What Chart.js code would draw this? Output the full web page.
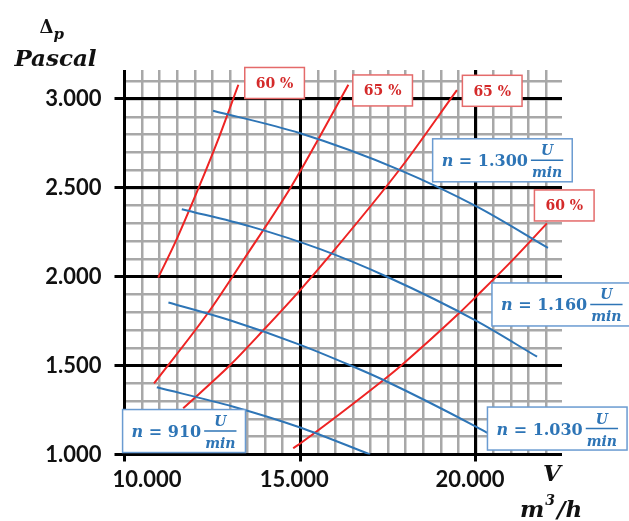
<!DOCTYPE html>
<html>
<head>
<meta charset="utf-8">
<script src="https://cdn.jsdelivr.net/npm/chart.js@4.4.1/dist/chart.umd.min.js"></script>
<style>
  html, body { margin: 0; padding: 0; background: #fff; }
  canvas { display: block; }
</style>
</head>
<body>
<canvas id="chart" width="629" height="521"></canvas>
<script>
// Drehzahl-Kennlinien (Volumenstrom m3/h -> Druck Pa)
const n1300V = [12520, 15000, 17840, 20030, 22050];
const n1300P = [2934, 2807, 2600, 2394, 2162];
const n1160V = [11630, 13600, 15570, 17470, 20000, 21740];
const n1160P = [2380, 2282, 2155, 2000, 1753, 1550];
const n1030V = [11250, 13000, 15000, 16420, 17370, 20000, 20320];
const n1030P = [1855, 1755, 1617, 1502, 1419, 1157, 1122];
const n910V = [10920, 13100, 15000, 16990];
const n910P = [1378, 1269, 1152, 1000];

// Wirkungsgrad-Linien
const eta60aV = [10960, 11460, 12120, 12700, 13240];
const eta60aP = [1995, 2200, 2505, 2790, 3080];
const eta65aV = [10840, 12390, 13430, 14760, 15570, 16370];
const eta65aP = [1400, 1800, 2108, 2512, 2793, 3080];
const eta65bV = [11670, 13000, 13950, 15000, 15760, 17840, 19460];
const eta65bP = [1260, 1502, 1699, 1925, 2100, 2606, 3050];
const eta60bV = [14800, 15000, 17280, 17850, 19550, 20000, 21070, 22020];
const eta60bP = [1035, 1062, 1405, 1497, 1800, 1887, 2099, 2300];

// Achsen
const xTickValues = [10000, 15000, 20000];
const xTickLabels = ['10.000', '15.000', '20.000'];
const yTickValues = [1000, 1500, 2000, 2500, 3000];
const yTickLabels = ['1.000', '1.500', '2.000', '2.500', '3.000'];
const xMinorStep = 500;
const yMinorStep = 100;

// Beschriftungen (Lage in Daten-Einheiten)
const etaLabels = ['60 %', '65 %', '65 %', '60 %'];
const etaLabelV = [14271, 17346, 20464, 22514];
const etaLabelP = [3090, 3048, 3046, 2401];
const speedLabels = ['1.300', '1.160', '1.030', '910'];
const speedLabelV = [20755, 22443, 22315, 11694];
const speedLabelP = [2655, 1844, 1146, 1132];

const BLUE = '#2e75b6';
const RED = '#ee2424';
const GRAY = '#a8a8a8';

function pts(xs, ys) { return xs.map((v, i) => ({ x: v, y: ys[i] })); }

function stepTicks(scale, step) {
  const t = [];
  for (let v = scale.min; v <= scale.max; v += step) t.push({ value: v });
  scale.ticks = t;
}

const datasets = [
  { data: pts(n1300V, n1300P), borderColor: BLUE },
  { data: pts(n1160V, n1160P), borderColor: BLUE },
  { data: pts(n1030V, n1030P), borderColor: BLUE },
  { data: pts(n910V, n910P), borderColor: BLUE },
  { data: pts(eta60aV, eta60aP), borderColor: RED },
  { data: pts(eta65aV, eta65aP), borderColor: RED },
  { data: pts(eta65bV, eta65bP), borderColor: RED },
  { data: pts(eta60bV, eta60bP), borderColor: RED }
];

function box(ctx, x, y, w, h, stroke) {
  ctx.fillStyle = '#fff';
  ctx.fillRect(x, y, w, h);
  ctx.strokeStyle = stroke;
  ctx.lineWidth = 1.5;
  ctx.strokeRect(x, y, w, h);
}

const overlay = {
  id: 'overlay',
  afterDatasetsDraw(chart) {
    const { ctx, scales: { x, y } } = chart;
    ctx.save();

    // Wirkungsgrad-Kästchen
    etaLabels.forEach((txt, i) => {
      const cx = x.getPixelForValue(etaLabelV[i]);
      const cy = y.getPixelForValue(etaLabelP[i]);
      ctx.font = 'bold 14px "DejaVu Serif"';
      const w = ctx.measureText(txt).width + 22, h = 31;
      box(ctx, cx - w / 2, cy - h / 2, w, h, '#e46a6a');
      ctx.fillStyle = '#d42a2a';
      ctx.textAlign = 'center';
      ctx.textBaseline = 'alphabetic';
      ctx.fillText(txt, cx, cy + 5);
    });

    // Drehzahl-Kästchen  n = ... U/min
    const fN = 'italic bold 16px "DejaVu Serif"';
    const fEq = 'bold 16px "DejaVu Serif"';
    const fFr = 'italic bold 14px "DejaVu Serif"';
    speedLabels.forEach((num, i) => {
      const cx = x.getPixelForValue(speedLabelV[i]);
      const cy = y.getPixelForValue(speedLabelP[i]);
      const eq = ' = ' + num;
      ctx.font = fN; const wN = ctx.measureText('n').width;
      ctx.font = fEq; const wEq = ctx.measureText(eq).width;
      ctx.font = fFr; const wFr = ctx.measureText('min').width + 2;
      const gap = 3, pad = 9, h = 43;
      const w = wN + wEq + gap + wFr + 2 * pad;
      box(ctx, cx - w / 2, cy - h / 2, w, h, '#6a9bd1');
      ctx.fillStyle = BLUE;
      ctx.textAlign = 'left';
      ctx.textBaseline = 'alphabetic';
      let tx = cx - w / 2 + pad;
      ctx.font = fN; ctx.fillText('n', tx, cy + 6); tx += wN;
      ctx.font = fEq; ctx.fillText(eq, tx, cy + 6); tx += wEq + gap;
      ctx.strokeStyle = BLUE; ctx.lineWidth = 1.5;
      ctx.beginPath(); ctx.moveTo(tx, cy); ctx.lineTo(tx + wFr, cy); ctx.stroke();
      ctx.font = fFr; ctx.textAlign = 'center';
      ctx.fillText('U', tx + wFr / 2, cy - 5);
      ctx.fillText('min', tx + wFr / 2, cy + 17);
    });
    ctx.restore();
  },
  afterDraw(chart) {
    const { ctx, chartArea: a, scales: { x } } = chart;
    ctx.save();
    ctx.fillStyle = '#111';

    // x-Beschriftung
    ctx.font = 'bold 22px Lato';
    ctx.textBaseline = 'middle';
    xTickValues.forEach((v, i) => {
      const px = x.getPixelForValue(v);
      if (i === 0) { ctx.textAlign = 'left'; ctx.fillText(xTickLabels[i], px - 12, a.bottom + 25); }
      else { ctx.textAlign = 'center'; ctx.fillText(xTickLabels[i], px - 6, a.bottom + 25); }
    });

    // Achsentitel y
    ctx.textBaseline = 'alphabetic';
    ctx.textAlign = 'left';
    ctx.font = 'bold 18px "DejaVu Serif"';
    ctx.fillText('\u0394', a.left - 85, a.top - 37);
    ctx.font = 'italic bold 15px "DejaVu Serif"';
    ctx.fillText('p', a.left - 71, a.top - 31);
    ctx.textAlign = 'center';
    ctx.font = 'italic bold 23px "DejaVu Serif"';
    ctx.fillText('Pascal', a.left - 69, a.top - 4);

    // Achsentitel x
    ctx.fillText('V', a.right - 10, a.bottom + 26);
    ctx.textAlign = 'left';
    let tx = a.right - 42;
    ctx.fillText('m', tx, a.bottom + 62); tx += ctx.measureText('m').width + 1;
    ctx.font = 'italic bold 14px "DejaVu Serif"';
    ctx.fillText('3', tx, a.bottom + 50); tx += ctx.measureText('3').width + 2;
    ctx.font = 'italic bold 23px "DejaVu Serif"';
    ctx.fillText('/h', tx, a.bottom + 62);
    ctx.restore();
  }
};

new Chart(document.getElementById('chart'), {
  type: 'line',
  data: { datasets },
  options: {
    responsive: false,
    animation: false,
    layout: { padding: { left: 0, right: 67, top: 70, bottom: 0 } },
    plugins: { legend: { display: false }, tooltip: { enabled: false }, title: { display: false } },
    elements: {
      point: { radius: 0, hoverRadius: 0 },
      line: { borderWidth: 2, fill: false, cubicInterpolationMode: 'monotone' }
    },
    scales: {
      y: {
        type: 'linear', position: 'left', min: 1000, max: 3163,
        afterBuildTicks: s => { s.ticks = yTickValues.map(v => ({ value: v })); },
        ticks: {
          autoSkip: false, padding: 13,
          color: '#111', font: { family: 'Lato', weight: 'bold', size: 22 },
          callback: v => { const k = yTickValues.indexOf(v); return k < 0 ? '' : yTickLabels[k]; }
        },
        grid: { color: '#000', lineWidth: 3, tickLength: 10, tickColor: '#000', tickWidth: 3, z: -1 },
        border: { display: false },
        afterFit: s => { s.width = 124.5; }
      },
      yMinor: {
        type: 'linear', position: 'left', min: 1000, max: 3163,
        afterBuildTicks: s => stepTicks(s, yMinorStep),
        ticks: { display: false, autoSkip: false },
        grid: { color: GRAY, lineWidth: 2.5, drawTicks: false, z: -2 },
        border: { display: false },
        afterFit: s => { s.width = 0; }
      },
      x: {
        type: 'linear', position: 'bottom', min: 10000, max: 22450,
        afterBuildTicks: s => { s.ticks = xTickValues.map(v => ({ value: v })); },
        ticks: { display: false, autoSkip: false },
        grid: { color: '#000', lineWidth: 3, tickLength: 7, tickColor: '#000', tickWidth: 3, z: -1 },
        border: { display: false },
        afterFit: s => { s.height = 66.5; }
      },
      xMinor: {
        type: 'linear', position: 'bottom', min: 10000, max: 22450,
        afterBuildTicks: s => stepTicks(s, xMinorStep),
        ticks: { display: false, autoSkip: false },
        grid: { color: GRAY, lineWidth: 2.5, drawTicks: false, z: -2 },
        border: { display: false },
        afterFit: s => { s.height = 0; }
      }
    }
  },
  plugins: [overlay]
});
</script>
</body>
</html>
